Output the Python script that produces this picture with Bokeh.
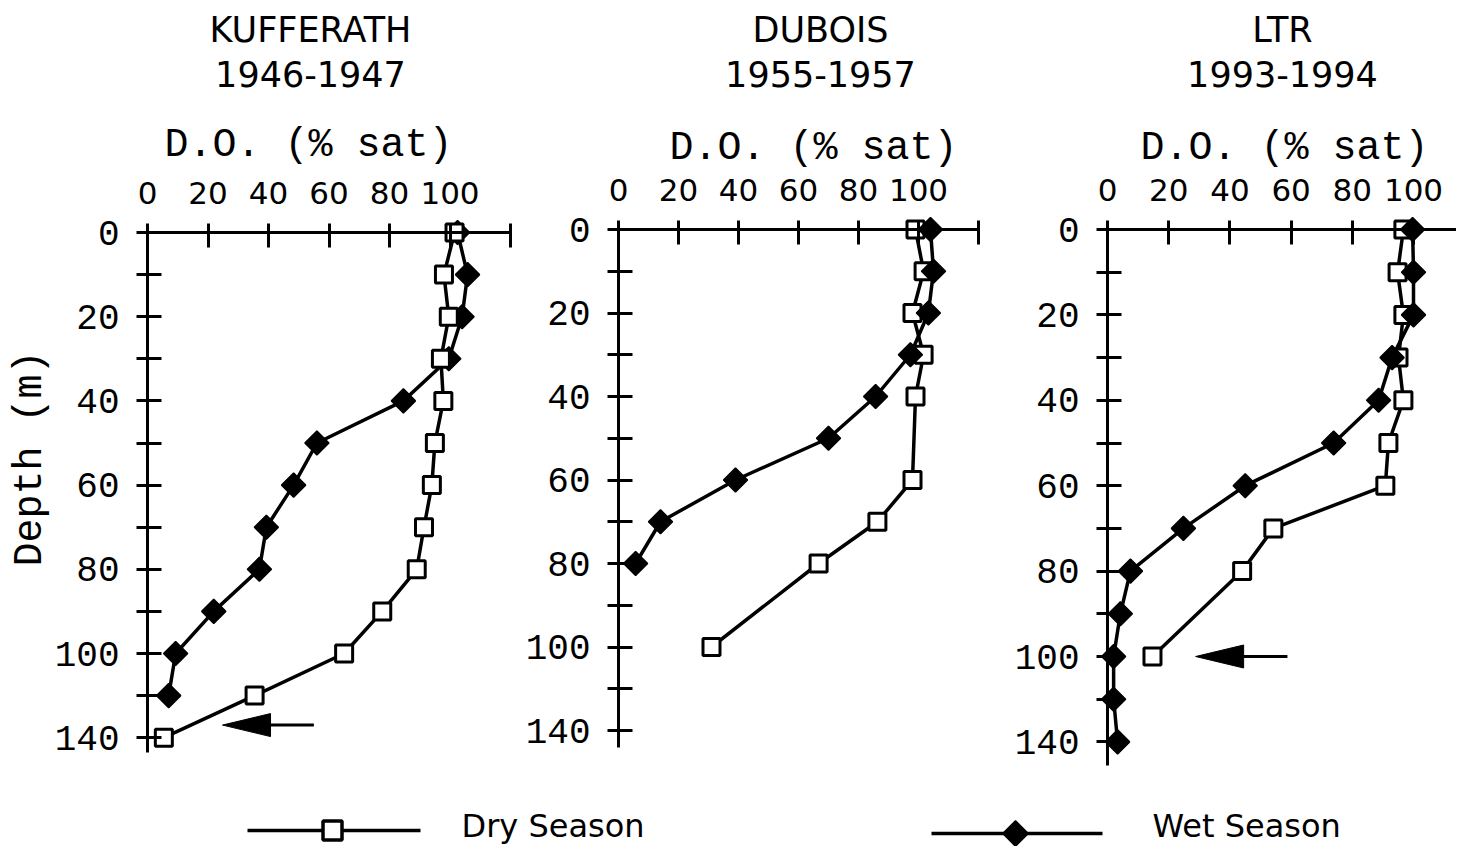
import numpy as np
from bokeh.plotting import figure
from bokeh.models import Range1d, LinearAxis, FixedTicker
from bokeh.embed import file_html
from bokeh.resources import INLINE
from bokeh.core.properties import value

# ---------------- data ----------------
depth_levels = [0, 10, 20, 30, 40, 50, 60, 70, 80, 90, 100, 120, 140]
depth_tick_labels = ["0", "", "20", "", "40", "", "60", "", "80", "", "100", "", "140"]
do_ticks = [0, 20, 40, 60, 80, 100, 120]
do_tick_labels = ["0", "20", "40", "60", "80", "100", ""]

panel_names = ["KUFFERATH", "DUBOIS", "LTR"]
panel_years = ["1946-1947", "1955-1957", "1993-1994"]

kuf_dry_depth = [0, 10, 20, 30, 40, 50, 60, 70, 80, 90, 100, 120, 140]
kuf_dry_do = [101.5, 98, 99.6, 97, 97.8, 95, 94, 91.4, 89, 77.6, 65, 35.4, 5.4]
kuf_wet_depth = [0, 10, 20, 30, 40, 50, 60, 70, 80, 90, 100, 120]
kuf_wet_do = [102.5, 105.8, 104, 99.6, 84.6, 56, 48.3, 39.3, 37, 21.9, 9.3, 7]

dub_dry_depth = [0, 10, 20, 30, 40, 60, 70, 80, 100]
dub_dry_do = [99, 101.7, 98, 101.7, 99, 98, 86.3, 66.7, 31]
dub_wet_depth = [0, 10, 20, 30, 40, 50, 60, 70, 80]
dub_wet_do = [104, 105, 103.3, 97.3, 85.7, 70, 39, 14, 5.7]

ltr_dry_depth = [0, 10, 20, 30, 40, 50, 60, 70, 80, 100]
ltr_dry_do = [96.7, 94.8, 96.7, 95.1, 96.7, 91.8, 90.8, 54.2, 44, 14.7]
ltr_wet_depth = [0, 10, 20, 30, 40, 50, 60, 70, 80, 90, 100, 120, 140]
ltr_wet_do = [99.7, 100, 100, 93, 88.6, 73.9, 45, 24.8, 7.5, 4.2, 2, 2, 3.3]

dry_series = [(kuf_dry_depth, kuf_dry_do), (dub_dry_depth, dub_dry_do), (ltr_dry_depth, ltr_dry_do)]
wet_series = [(kuf_wet_depth, kuf_wet_do), (dub_wet_depth, dub_wet_do), (ltr_wet_depth, ltr_wet_do)]

arrow_panel = [0, 2]
arrow_depth = [134, 100]
arrow_tip_do = [24.8, 28.8]
arrow_tail_do = [55, 58.8]

legend_labels = ["Dry Season", "Wet Season"]

# ---------------- layout / style ----------------
W, H = 1456, 846
# panel geometry on the canvas (origin pixel and pixels per unit)
geoms = [
    dict(x0=147, sx=3.025, y0=232, sy=42.1, yend=12.35, tx=308, ty=145, hx=310),
    dict(x0=618, sx=3.0, y0=229, sy=41.75, yend=12.4, tx=813, ty=148, hx=820),
    dict(x0=1107, sx=3.06, y0=229, sy=42.7, yend=12.55, tx=1284, ty=148, hx=1282),
]
dry_on_top = [True, False, False]

MONO = "Liberation Mono"
SANS = "DejaVu Sans"


def ypos(depths):
    return np.interp(depths, depth_levels, np.arange(len(depth_levels)))


p = figure(width=W, height=H, x_range=Range1d(0, W), y_range=Range1d(H, 0),
           x_axis_type=None, y_axis_type=None, toolbar_location=None,
           output_backend="svg", min_border=0, outline_line_color=None)

xr, yr = {}, {}
for k, g in enumerate(geoms):
    xr[f"x{k}"] = Range1d(-g["x0"] / g["sx"], (W - g["x0"]) / g["sx"])
    yr[f"y{k}"] = Range1d((H - g["y0"]) / g["sy"], -g["y0"] / g["sy"])
p.extra_x_ranges = xr
p.extra_y_ranges = yr

for k, g in enumerate(geoms):
    xn, yn = f"x{k}", f"y{k}"
    xa = LinearAxis(x_range_name=xn, y_range_name=yn, fixed_location=0, bounds=(0, 120),
                    ticker=FixedTicker(ticks=do_ticks, minor_ticks=[]),
                    major_label_overrides={t: l for t, l in zip(do_ticks, do_tick_labels)},
                    axis_line_width=3, axis_line_color="black",
                    major_tick_line_width=3, major_tick_line_color="black",
                    major_tick_in=15, major_tick_out=9, minor_tick_line_color=None,
                    major_label_standoff=20, major_label_text_font=SANS,
                    major_label_text_font_size="31px", major_label_text_color="black")
    p.add_layout(xa, "above")
    ya = LinearAxis(x_range_name=xn, y_range_name=yn, fixed_location=0, bounds=(0, g["yend"]),
                    ticker=FixedTicker(ticks=list(range(len(depth_levels))), minor_ticks=[]),
                    major_label_overrides={i: l for i, l in enumerate(depth_tick_labels)},
                    axis_line_width=3, axis_line_color="black",
                    major_tick_line_width=3, major_tick_line_color="black",
                    major_tick_in=14, major_tick_out=11, minor_tick_line_color=None,
                    major_label_standoff=17, major_label_text_font=MONO,
                    major_label_text_font_size="36px", major_label_text_color="black")
    p.add_layout(ya, "left")

    dd, dv = dry_series[k]
    wd, wv = wet_series[k]
    p.line(x=wv, y=ypos(wd), x_range_name=xn, y_range_name=yn, line_width=3.5, line_color="black")
    p.line(x=dv, y=ypos(dd), x_range_name=xn, y_range_name=yn, line_width=3.5, line_color="black")

    def draw_dry():
        p.scatter(x=dv, y=ypos(dd), x_range_name=xn, y_range_name=yn, marker="square",
                  size=17, fill_color="white", line_color="black", line_width=3)

    def draw_wet():
        p.scatter(x=wv, y=ypos(wd), x_range_name=xn, y_range_name=yn, marker="square",
                  angle=np.pi / 4, size=17, fill_color="black", line_color="black", line_width=1.5)

    if dry_on_top[k]:
        draw_wet(); draw_dry()
    else:
        draw_dry(); draw_wet()

    # axis title
    p.text(x=[g["tx"]], y=[g["ty"]], text=["D.O. (% sat)"], text_font=value(MONO),
           text_font_size="40px", text_align="center", text_baseline="middle", text_color="black")
    # heading
    p.text(x=[g["hx"], g["hx"]], y=[29, 73], text=[panel_names[k], panel_years[k]],
           text_font=value(SANS), text_font_size="35px", text_align="center",
           text_baseline="middle", text_color="black")

# arrows
HEAD_LEN, HEAD_HALF = 48, 11.5
for k, dpt, tip, tail in zip(arrow_panel, arrow_depth, arrow_tip_do, arrow_tail_do):
    g = geoms[k]
    yi = float(ypos([dpt])[0])
    hl = HEAD_LEN / g["sx"]
    hh = HEAD_HALF / g["sy"]
    p.patch(x=[tip, tip + hl, tip + hl], y=[yi, yi - hh, yi + hh],
            x_range_name=f"x{k}", y_range_name=f"y{k}", fill_color="black", line_color="black",
            line_width=1)
    p.segment(x0=[tip + hl - 1], y0=[yi], x1=[tail], y1=[yi], x_range_name=f"x{k}",
              y_range_name=f"y{k}", line_color="black", line_width=3)

# depth axis title
p.text(x=[30], y=[458], text=["Depth (m)"], angle=np.pi / 2, text_font=value(MONO),
       text_font_size="40px", text_align="center", text_baseline="middle", text_color="black")

# legend (drawn on canvas coordinates)
p.segment(x0=[247, 931], y0=[830, 833], x1=[420, 1102], y1=[830, 833], line_color="black", line_width=3.5)
p.scatter(x=[332], y=[830], marker="square", size=19, fill_color="white", line_color="black", line_width=3.5)
p.scatter(x=[1015], y=[833], marker="square", angle=np.pi / 4, size=18, fill_color="black",
          line_color="black", line_width=1.5)
p.text(x=[461, 1152], y=[825, 825], text=legend_labels, text_font=value(SANS), text_font_size="32px",
       text_align="left", text_baseline="middle", text_color="black")

open("out.html", "w").write(file_html(p, INLINE))
